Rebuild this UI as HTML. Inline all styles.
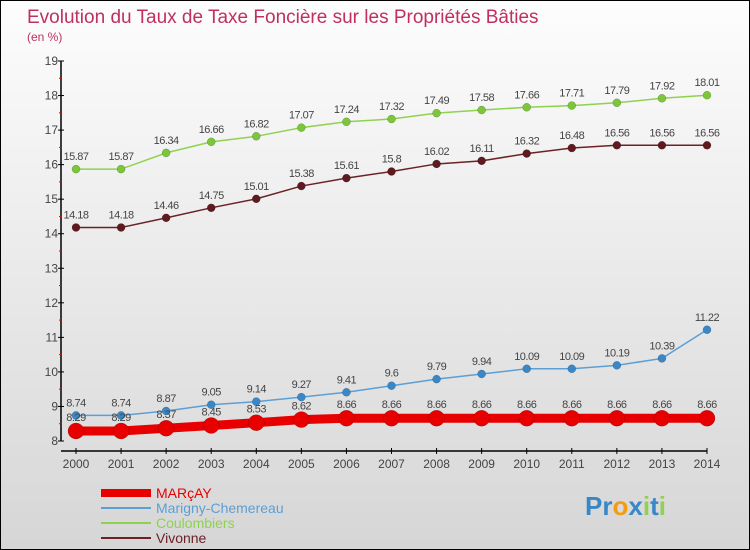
<!DOCTYPE html>
<html><head><meta charset="utf-8"><style>
body{margin:0}
#wrap{width:748px;height:548px;border:1px solid #000;background:linear-gradient(#fdfdfd,#d6d6d6);position:relative;overflow:hidden;font-family:"Liberation Sans",sans-serif}
text{font-family:"Liberation Sans",sans-serif}
</style></head><body>
<div id="wrap">
<svg id="c" width="748" height="548"></svg>
</div>
<script>
const years=[2000,2001,2002,2003,2004,2005,2006,2007,2008,2009,2010,2011,2012,2013,2014];
const marcay=[8.29,8.29,8.37,8.45,8.53,8.62,8.66,8.66,8.66,8.66,8.66,8.66,8.66,8.66,8.66];
const marigny=[8.74,8.74,8.87,9.05,9.14,9.27,9.41,9.6,9.79,9.94,10.09,10.09,10.19,10.39,11.22];
const coulombiers=[15.87,15.87,16.34,16.66,16.82,17.07,17.24,17.32,17.49,17.58,17.66,17.71,17.79,17.92,18.01];
const vivonne=[14.18,14.18,14.46,14.75,15.01,15.38,15.61,15.8,16.02,16.11,16.32,16.48,16.56,16.56,16.56];
const yTicks=[8,9,10,11,12,13,14,15,16,17,18,19];
const svg=document.getElementById('c');const NS='http://www.w3.org/2000/svg';
function X(i){return 75+i*(631/14);}
function Y(v){return 440-(v-8)*(380/11);}
function mk(t,a,p){const e=document.createElementNS(NS,t);for(const k in a)e.setAttribute(k,a[k]);(p||svg).appendChild(e);return e;}
let t=mk('text',{x:26,y:22,fill:'#c0305e','font-size':19});t.textContent='Evolution du Taux de Taxe Foncière sur les Propriétés Bâties';

t=mk('text',{x:26,y:40,fill:'#c0305e','font-size':12});t.textContent='(en %)';

let a=mk('line',{x1:60,y1:60,x2:60,y2:440,stroke:'#000','stroke-width':1.5});

a=mk('line',{x1:60,y1:450,x2:706,y2:450,stroke:'#000','stroke-width':1.5});

yTicks.forEach(v=>{mk('line',{x1:57,y1:Y(v),x2:63,y2:Y(v),stroke:'#000'});
 if(v<19)mk('line',{x1:58,y1:Y(v+0.5),x2:61,y2:Y(v+0.5),stroke:'#e00'});
 const l=mk('text',{x:57,y:Y(v)+4,'text-anchor':'end','font-size':12,fill:'#444'});l.textContent=v;
 });
years.forEach((y,i)=>{mk('line',{x1:X(i),y1:447,x2:X(i),y2:453,stroke:'#000'});
 const l=mk('text',{x:X(i),y:467,'text-anchor':'middle','font-size':12,fill:'#444'});l.textContent=y;
 });
function series(vals,col,dot,w,r,name,labelBelow){
 const g=mk('g',{});
 mk('polyline',{points:vals.map((v,i)=>X(i)+','+Y(v)).join(' '),fill:'none',stroke:col,'stroke-width':w},g);
 vals.forEach((v,i)=>{const c=mk('circle',{cx:X(i),cy:Y(v),r:r,fill:dot,stroke:'rgba(0,0,0,0.3)','stroke-width':0.5},g);
  
  const l=mk('text',{x:X(i),y:labelBelow?Y(v)-10:Y(v)-9,'text-anchor':'middle','font-size':11,fill:'#444','letter-spacing':'-0.5'},g);
  l.textContent=String(v);});
}
series(coulombiers,'#8fd24f','#7cc63a',1.5,4,'coulombiers');
series(vivonne,'#6b2226','#5e1a1e',1.5,4,'vivonne');
series(marigny,'#5b9fd6','#3a87c8',1.5,4,'marigny');
series(marcay,'#e80000','#e80000',9,8,'marcay',true);
const legend=[['MARçAY','#e80000',8],['Marigny-Chemereau','#5b9fd6',2],['Coulombiers','#8fd24f',2],['Vivonne','#6b2226',2]];
legend.forEach((d,i)=>{const g=mk('g',{});
 const y=492+i*15;mk('line',{x1:100,y1:y,x2:150,y2:y,stroke:d[1],'stroke-width':d[2]},g);
 const l=mk('text',{x:155,y:y+5,'font-size':14,fill:d[1]},g);l.textContent=d[0];});
const lg=mk('text',{x:584,y:514,'font-size':26,'font-weight':'bold',fill:'#3a87c8'});
[['Pr','#3a87c8'],['o','#f39c12'],['x','#3a87c8'],['i','#8fd24f'],['t','#3a87c8'],['i','#8fd24f']].forEach(p=>{const s=mk('tspan',{fill:p[1]},lg);s.textContent=p[0];});
</script>
</body></html>
